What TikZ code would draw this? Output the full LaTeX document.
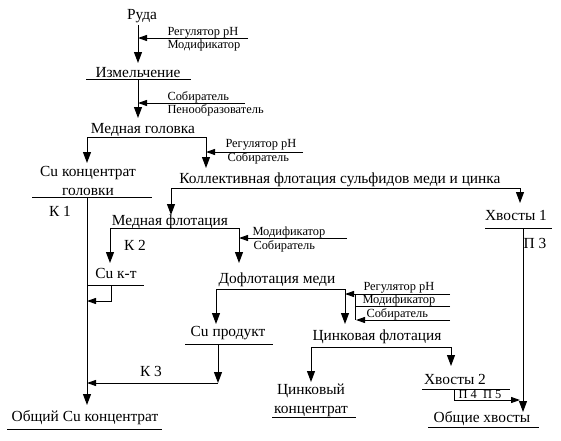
\documentclass[tikz,border=0pt]{standalone}
\usepackage{fontspec}
\setmainfont{Liberation Serif}
\usetikzlibrary{arrows.meta}
\begin{document}
\begin{tikzpicture}[x=1pt,y=-1pt,line width=1pt,
  big/.style={font=\fontsize{15.4}{18}\selectfont,inner sep=0pt,anchor=base},
  lbl/.style={font=\fontsize{12.4}{14}\selectfont,inner sep=0pt,anchor=base west},
  arr/.style={-{Triangle[length=11pt,width=8pt]}},
  rarr/.style={-{Triangle[length=9pt,width=6pt]}}]
\useasboundingbox (0,0) rectangle (561,440);
% ---------- text nodes ----------
\node[big] (ruda) at (142,19) {Руда};
\node[big] (izm) at (138,77) {Измельчение};
\node[big] (mg) at (143,133) {Медная головка};
\node[big] (cuk1) at (88,176) {Cu концентрат};
\node[big] (cuk2) at (88,195) {головки};
\node[big] (k1) at (60,216) {К 1};
\node[big] (kol) at (340,183) {Коллективная флотация сульфидов меди и цинка};
\node[big] (hv1) at (516,220) {Хвосты 1};
\node[big] (p3) at (535,248) {П 3};
\node[big] (mf) at (170,225) {Медная флотация};
\node[big] (k2) at (135,250) {К 2};
\node[big] (cukt) at (116,278) {Cu к-т};
\node[big] (dof) at (277,283) {Дофлотация меди};
\node[big] (cup) at (228,336) {Cu продукт};
\node[big] (k3) at (151,376) {К 3};
\node[big] (obcu) at (85,421) {Общий Cu концентрат};
\node[big] (zf) at (377,340) {Цинковая флотация};
\node[big] (zk1) at (311,394) {Цинковый};
\node[big] (zk2) at (311,413) {концентрат};
\node[big] (hv2) at (455,384) {Хвосты 2};
\node[lbl,anchor=base] (p45) at (480,398) {П 4\enspace П 5};
\node[big] (obh) at (482,422) {Общие хвосты};
% reagent labels
\node[lbl] (r1a) at (167,35) {Регулятор pH};
\node[lbl] (r1b) at (167,48) {Модификатор};
\node[lbl] (r2a) at (167,100) {Собиратель};
\node[lbl] (r2b) at (167,113) {Пенообразователь};
\node[lbl] (r3a) at (225,147) {Регулятор pH};
\node[lbl] (r3b) at (227,161) {Собиратель};
\node[lbl] (r4a) at (252,235) {Модификатор};
\node[lbl] (r4b) at (253,249) {Собиратель};
\node[lbl] (r5a) at (363,290) {Регулятор pH};
\node[lbl] (r5b) at (362,303) {Модификатор};
\node[lbl] (r5c) at (366,317) {Собиратель};
% ---------- junction coordinates ----------
\coordinate (a0) at (138,25);  \coordinate (a1) at (138,63);
\coordinate (g1s) at (248,38); \coordinate (g1e) at (138,38);
\coordinate (u1l) at (86,79);  \coordinate (u1r) at (191,79);
\coordinate (b0) at (138,79);  \coordinate (b1) at (138,118);
\coordinate (g2s) at (245,103); \coordinate (g2e) at (138,103);
\coordinate (s1l) at (87,137); \coordinate (s1r) at (206,137);
\coordinate (s1lb) at (87,163); \coordinate (s1rb) at (206,168);
\coordinate (g3s) at (303,152); \coordinate (g3e) at (206,152);
\coordinate (u2l) at (32,197); \coordinate (u2r) at (152,197);
\coordinate (m0) at (87,197);  \coordinate (m1) at (87,405);
\coordinate (s2l) at (171,188); \coordinate (s2r) at (520,188);
\coordinate (s2lb) at (171,215); \coordinate (s2rb) at (520,203);
\coordinate (u3l) at (485,228); \coordinate (u3r) at (552,228);
\coordinate (t0) at (523,228); \coordinate (t1) at (523,412);
\coordinate (s3l) at (110,228); \coordinate (s3r) at (239,228);
\coordinate (s3lb) at (110,263); \coordinate (s3rb) at (239,263);
\coordinate (g4s) at (347,238); \coordinate (g4e) at (239,238);
\coordinate (u4l) at (88,285); \coordinate (u4r) at (144,285);
\coordinate (c0) at (111,285); \coordinate (c1) at (111,301); \coordinate (c2) at (87,301);
\coordinate (s4l) at (216,289); \coordinate (s4r) at (345,289);
\coordinate (s4lb) at (216,324); \coordinate (s4rb) at (345,324);
\coordinate (g5s) at (450,294); \coordinate (g5e) at (345,294);
\coordinate (g6s) at (450,306); \coordinate (g6e) at (355,306);
\coordinate (g7s) at (450,320); \coordinate (g7e) at (356,320);
\coordinate (br0) at (355,294); \coordinate (br1) at (355,320);
\coordinate (u5l) at (185,344); \coordinate (u5r) at (273,344);
\coordinate (d0) at (218,344); \coordinate (d1) at (218,383); \coordinate (d2) at (87,383);
\coordinate (s5l) at (311,347); \coordinate (s5r) at (451,347);
\coordinate (s5lb) at (311,382); \coordinate (s5rb) at (451,366);
\coordinate (u6l) at (272,417); \coordinate (u6r) at (356,417);
\coordinate (u7l) at (422,389); \coordinate (u7r) at (510,389);
\coordinate (e0) at (454,389); \coordinate (e1) at (454,400); \coordinate (e2) at (520,400);
\coordinate (u8l) at (428,427); \coordinate (u8r) at (539,427);
\coordinate (u9l) at (7,429);  \coordinate (u9r) at (162,429);
% ---------- connectors ----------
\draw[arr] (a0) -- (a1);
\draw[rarr] (g1s) -- (g1e);
\draw (u1l) -- (u1r);
\draw[arr] (b0) -- (b1);
\draw[rarr] (g2s) -- (g2e);
\draw (s1l) -- (s1r);
\draw[arr] (s1l) -- (s1lb);
\draw[arr] (s1r) -- (s1rb);
\draw[rarr] (g3s) -- (g3e);
\draw (u2l) -- (u2r);
\draw[arr] (m0) -- (m1);
\draw (s2l) -- (s2r);
\draw[arr] (s2l) -- (s2lb);
\draw[arr] (s2r) -- (s2rb);
\draw (u3l) -- (u3r);
\draw[arr] (t0) -- (t1);
\draw (s3l) -- (s3r);
\draw[arr] (s3l) -- (s3lb);
\draw[arr] (s3r) -- (s3rb);
\draw[rarr] (g4s) -- (g4e);
\draw (u4l) -- (u4r);
\draw[rarr] (c0) -- (c1) -- (c2);
\draw (s4l) -- (s4r);
\draw[arr] (s4l) -- (s4lb);
\draw[arr] (s4r) -- (s4rb);
\draw[rarr] (g5s) -- (g5e);
\draw (g6s) -- (g6e);
\draw[rarr] (g7s) -- (g7e);
\draw (br0) -- (br1);
\draw (u5l) -- (u5r);
\draw[arr] (d0) -- (d1);
\draw[rarr] (d1) -- (d2);
\draw (s5l) -- (s5r);
\draw[arr] (s5l) -- (s5lb);
\draw[arr] (s5r) -- (s5rb);
\draw (u6l) -- (u6r);
\draw (u7l) -- (u7r);
\draw[rarr] (e0) -- (e1) -- (e2);
\draw (u8l) -- (u8r);
\draw (u9l) -- (u9r);
\end{tikzpicture}
\end{document}
